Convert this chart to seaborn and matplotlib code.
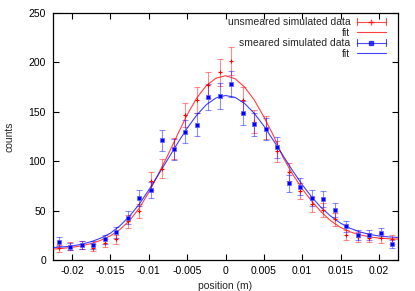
import numpy as np
import pandas as pd
import matplotlib
matplotlib.use("Agg")
import matplotlib.pyplot as plt
import seaborn as sns
from matplotlib.lines import Line2D
from matplotlib.legend_handler import HandlerLine2D

# ---- data ----
bin_x = [-0.02175, -0.02025, -0.01875, -0.01725, -0.01575, -0.01425, -0.01275,
         -0.01125, -0.00975, -0.00825, -0.00675, -0.00525, -0.00375, -0.00225,
         -0.00075, 0.00075, 0.00225, 0.00375, 0.00525, 0.00675, 0.00825,
         0.00975, 0.01125, 0.01275, 0.01425, 0.01575, 0.01725, 0.01875,
         0.02025, 0.02175]
unsmeared = [12, 14, 15, 12.5, 17.5, 21, 39, 50, 80, 92.5, 113, 147, 162, 177,
             190, 201, 162, 140, 134, 110, 89, 70, 56.5, 50.5, 41, 25.5, 23.5,
             22.5, 22, 21]
smeared = [18.5, 13.5, 15, 15, 21, 28, 43, 63, 71, 121, 112, 130, 137, 165,
           166, 178, 148.5, 137.5, 132.5, 114, 77.5, 74, 62.5, 61.5, 51, 34,
           25, 25, 27, 16.5]

fit_x = [-0.0225, -0.02125, -0.02, -0.01875, -0.0175, -0.01625, -0.015,
         -0.01375, -0.0125, -0.01125, -0.01, -0.00875, -0.0075, -0.00625,
         -0.005, -0.00375, -0.0025, -0.00125, 0.0, 0.00125, 0.0025, 0.00375,
         0.005, 0.00625, 0.0075, 0.00875, 0.01, 0.01125, 0.0125, 0.01375,
         0.015, 0.01625, 0.0175, 0.01875, 0.02, 0.02125, 0.0225]
fit_unsmeared = [11.0, 11.8, 12.8, 14.4, 16.7, 20.0, 24.5, 31.0, 40.0, 52.5,
                 68.5, 87.0, 106.5, 127.0, 147.0, 164.0, 176.5, 184.0, 186.5,
                 183.5, 175.0, 162.0, 145.0, 126.0, 104.0, 87.0, 72.0, 59.5,
                 48.5, 39.5, 33.0, 28.5, 25.5, 23.5, 22.2, 21.5, 21.2]
fit_smeared = [12.5, 13.2, 14.2, 16.0, 18.6, 22.2, 27.2, 34.8, 44.5, 56.5,
               71.0, 86.5, 102.3, 118.2, 133.4, 146.7, 157.2, 164.0, 166.5,
               164.6, 158.4, 148.5, 135.7, 121.0, 105.7, 90.5, 76.3, 63.7,
               52.9, 44.2, 37.3, 32.1, 28.5, 26.0, 24.3, 23.4, 22.8]

x_ticks = [-0.02, -0.015, -0.01, -0.005, 0, 0.005, 0.01, 0.015, 0.02]
x_tick_labels = ["-0.02", "-0.015", "-0.01", "-0.005", "0", "0.005", "0.01",
                 "0.015", "0.02"]
y_ticks = [0, 50, 100, 150, 200, 250]
y_tick_labels = ["0", "50", "100", "150", "200", "250"]

legend_labels = ["unsmeared simulated data", "fit", "smeared simulated data", "fit"]

# ---- style ----
sns.set_style("ticks")
plt.rcParams['font.family'] = ['Liberation Sans', 'DejaVu Sans']
plt.rcParams['font.size'] = 7.5

fig = plt.figure(figsize=(4.15, 2.91), dpi=100)
ax = fig.add_axes([53/415, 1-260/291, (398-53)/415, (260-13)/291])

fits = pd.DataFrame({"x": fit_x, "unsmeared": fit_unsmeared, "smeared": fit_smeared})
data = pd.DataFrame({"x": bin_x, "unsmeared": unsmeared, "smeared": smeared})

RED = "#ff0000"
BLUE = "#0000ff"

# error bars (Poisson)
ax.errorbar(data["x"], data["unsmeared"], yerr=np.sqrt(data["unsmeared"]),
            fmt="none", ecolor=RED, elinewidth=0.8, capsize=2.3,
            capthick=0.8, alpha=0.45, zorder=2)
ax.errorbar(data["x"], data["smeared"], yerr=np.sqrt(data["smeared"]),
            fmt="none", ecolor=BLUE, elinewidth=0.8, capsize=2.3,
            capthick=0.8, alpha=0.45, zorder=2)

sns.lineplot(data=fits, x="x", y="unsmeared", color=RED, lw=0.8, alpha=0.75,
             ax=ax, zorder=3)
sns.lineplot(data=fits, x="x", y="smeared", color=BLUE, lw=0.8, alpha=0.75,
             ax=ax, zorder=3)

sns.scatterplot(data=data, x="x", y="unsmeared", marker="+", color=RED, s=12,
                linewidth=0.8, ax=ax, zorder=4)
sns.scatterplot(data=data, x="x", y="smeared", marker="s", color=BLUE, s=9,
                linewidth=0.5, edgecolor="#6060ff", ax=ax, zorder=4)

ax.set_xlim(-0.0225, 0.0225)
ax.set_ylim(0, 250)
ax.set_xticks(x_ticks)
ax.set_xticklabels(x_tick_labels)
ax.set_yticks(y_ticks)
ax.set_yticklabels(y_tick_labels)
ax.tick_params(direction="in", length=4, width=0.8, top=True, right=True,
               labelsize=7.5, colors="black")
ax.tick_params(axis="y", pad=5)
ax.tick_params(axis="x", pad=4)
for sp in ax.spines.values():
    sp.set_visible(True)
    sp.set_color("black")
    sp.set_linewidth(0.9)

ax.set_xlabel("position (m)", fontsize=7.5, labelpad=4)
ax.set_ylabel("counts", fontsize=7.5, labelpad=10)


class HandlerErrLine(HandlerLine2D):
    """Legend sample: horizontal line with end caps and a marker in the middle."""
    def create_artists(self, legend, orig_handle, xdescent, ydescent, width,
                       height, fontsize, trans):
        artists = super().create_artists(legend, orig_handle, xdescent, ydescent,
                                         width, height, fontsize, trans)
        yc = height / 2.0 - ydescent
        cap = 2.5
        for xe in (-xdescent, -xdescent + width):
            c = Line2D([xe, xe], [yc - cap, yc + cap], color=orig_handle.get_color(),
                       lw=0.8, alpha=orig_handle.get_alpha(), transform=trans)
            artists.append(c)
        return artists


h_red_data = Line2D([], [], color=RED, marker="+", markersize=4, lw=0.8, alpha=0.7)
h_red_fit = Line2D([], [], color=RED, lw=0.8, alpha=0.75)
h_blue_data = Line2D([], [], color=BLUE, marker="s", markersize=2.5, lw=0.8, alpha=0.7)
h_blue_fit = Line2D([], [], color=BLUE, lw=0.8, alpha=0.75)
leg = ax.legend([h_red_data, h_red_fit, h_blue_data, h_blue_fit], legend_labels,
                loc="upper right", bbox_to_anchor=(0.977, 1.0),
                frameon=False, markerfirst=False,
                handlelength=2.8, handletextpad=0.6, labelspacing=0.05,
                borderaxespad=0.0, fontsize=7.5,
                handler_map={h_red_data: HandlerErrLine(),
                             h_blue_data: HandlerErrLine()})
for t in leg.get_texts():
    t.set_ha("right")

fig.savefig("out.png", dpi=100)
